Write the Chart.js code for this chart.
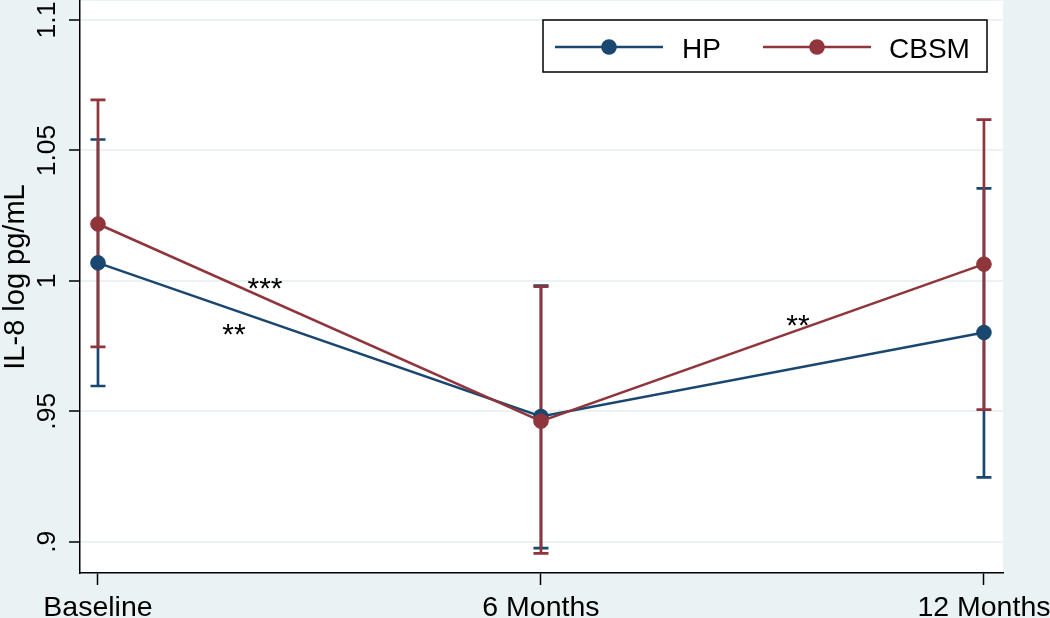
<!DOCTYPE html>
<html><head><meta charset="utf-8">
<script src="https://cdn.jsdelivr.net/npm/chart.js@4.4.1/dist/chart.umd.min.js"></script>
<style>html,body{margin:0;padding:0;background:#eaf2f3;overflow:hidden}#wrap{width:1050px;height:618px;position:relative}canvas{display:block}</style>
</head><body><div id="wrap"><canvas id="c" width="1050" height="618"></canvas></div>
<script>
// ---- data ----
const categories = ['Baseline', '6 Months', '12 Months'];
const timePoints = [0, 1, 2];
const hpMean   = [1.0069, 0.9480, 0.9802];
const hpLower  = [0.9597, 0.8975, 0.9247];
const hpUpper  = [1.0542, 0.9982, 1.0355];
const cbsmMean  = [1.0218, 0.9462, 1.0064];
const cbsmLower = [0.9747, 0.8955, 0.9506];
const cbsmUpper = [1.0694, 0.9978, 1.0618];
const yTickValues = [0.9, 0.95, 1, 1.05, 1.1];
const yTickLabels = ['.9', '.95', '1', '1.05', '1.1'];
const yTitle = 'IL-8 log pg/mL';
const annoText = ['***', '**', '**'];
const annoX = [0.377, 0.307, 1.58];
const annoY = [1.0000, 0.9824, 0.9858];

const NAVY = '#1a476f', MAROON = '#90353b', BG = '#eaf2f3';
const FONT = "'Liberation Sans', Arial, Helvetica, sans-serif";

const series = [
  {label: 'HP', mean: hpMean, lower: hpLower, upper: hpUpper, color: NAVY},
  {label: 'CBSM', mean: cbsmMean, lower: cbsmLower, upper: cbsmUpper, color: MAROON}
];

const bgPlugin = {
  id: 'bg',
  beforeDraw(chart) {
    const {ctx, chartArea: a} = chart;
    ctx.save();
    ctx.fillStyle = BG; ctx.fillRect(0, 0, chart.width, chart.height);
    ctx.fillStyle = '#ffffff'; ctx.fillRect(a.left, a.top, a.right - a.left, a.bottom - a.top);
    ctx.restore();
  }
};

const errPlugin = {
  id: 'errbars',
  beforeDatasetsDraw(chart) {
    const {ctx, scales: {x, y}} = chart;
    ctx.save();
    ctx.lineWidth = 2.7;
    series.forEach(s => {
      ctx.strokeStyle = s.color;
      timePoints.forEach((t, i) => {
        const px = x.getPixelForValue(t);
        const yl = y.getPixelForValue(s.lower[i]);
        const yu = y.getPixelForValue(s.upper[i]);
        ctx.beginPath();
        ctx.moveTo(px, yl); ctx.lineTo(px, yu);
        ctx.moveTo(px - 7.5, yl); ctx.lineTo(px + 7.5, yl);
        ctx.moveTo(px - 7.5, yu); ctx.lineTo(px + 7.5, yu);
        ctx.stroke();
      });
    });
    ctx.restore();
  }
};

const decoPlugin = {
  id: 'deco',
  afterDraw(chart) {
    const {ctx, scales: {x, y}} = chart;
    ctx.save();
    ctx.fillStyle = '#000';
    // y tick labels (rotated)
    ctx.font = '26.5px ' + FONT;
    ctx.textAlign = 'center'; ctx.textBaseline = 'alphabetic';
    yTickValues.forEach((v, i) => {
      ctx.save();
      ctx.translate(55, y.getPixelForValue(v));
      ctx.rotate(-Math.PI / 2);
      ctx.fillText(yTickLabels[i], 0, 0);
      ctx.restore();
    });
    // y title
    ctx.font = '29px ' + FONT;
    ctx.save();
    ctx.translate(24, 277);
    ctx.rotate(-Math.PI / 2);
    ctx.fillText(yTitle, 0, 0);
    ctx.restore();
    // annotations
    ctx.font = '30px ' + FONT;
    annoText.forEach((t, i) => {
      ctx.fillText(t, x.getPixelForValue(annoX[i]), y.getPixelForValue(annoY[i]) + 17);
    });
    // legend
    ctx.fillStyle = '#fff'; ctx.strokeStyle = '#000'; ctx.lineWidth = 1.5;
    ctx.fillRect(543, 20, 444, 52); ctx.strokeRect(543, 20, 444, 52);
    const entries = [{x0: 555, text: 682}, {x0: 763, text: 889}];
    series.forEach((s, i) => {
      const e = entries[i];
      ctx.strokeStyle = s.color; ctx.lineWidth = 2.5;
      ctx.beginPath(); ctx.moveTo(e.x0, 47); ctx.lineTo(e.x0 + 108, 47); ctx.stroke();
      ctx.fillStyle = s.color;
      ctx.beginPath(); ctx.arc(e.x0 + 54, 47, 7.8, 0, Math.PI * 2); ctx.fill();
      ctx.fillStyle = '#000'; ctx.font = '28px ' + FONT; ctx.textAlign = 'left';
      ctx.fillText(s.label, e.text, 58);
    });
    ctx.restore();
  }
};

new Chart(document.getElementById('c'), {
  type: 'line',
  data: {
    datasets: series.map((s, k) => ({
      label: s.label,
      data: timePoints.map((t, i) => ({x: t, y: s.mean[i]})),
      borderColor: s.color, backgroundColor: s.color,
      pointBackgroundColor: s.color, pointBorderColor: s.color,
      borderWidth: 2.5, pointRadius: 7.3, pointBorderWidth: 1,
      tension: 0, fill: false, order: 2 - k
    }))
  },
  options: {
    responsive: false, animation: false, devicePixelRatio: 1,
    layout: {autoPadding: false, padding: {top: 1, right: 47, left: 0, bottom: 0}},
    plugins: {legend: {display: false}, tooltip: {enabled: false}, title: {display: false}},
    scales: {
      x: {
        type: 'linear', min: -0.0406, max: 2.043,
        afterBuildTicks: s => { s.ticks = timePoints.map(v => ({value: v})); },
        afterFit: s => { s.height = 45; s.paddingLeft = 0; s.paddingRight = 0; },
        ticks: {
          callback: v => categories[timePoints.indexOf(v)],
          font: {size: 28.5, family: FONT}, color: '#000', padding: 6,
          autoSkip: false, maxRotation: 0, minRotation: 0
        },
        grid: {drawOnChartArea: false, drawTicks: true, tickLength: 12, tickColor: '#000', tickWidth: 1.5},
        border: {display: true, color: '#000', width: 1.5}
      },
      y: {
        min: 0.888, max: 1.1073,
        afterBuildTicks: s => { s.ticks = yTickValues.map(v => ({value: v})); },
        afterFit: s => { s.width = 80; s.paddingTop = 0; s.paddingBottom = 0; },
        ticks: {display: false},
        grid: {color: BG, lineWidth: 2, drawTicks: true, tickLength: 11, tickColor: '#000', tickWidth: 1.5},
        border: {display: true, color: '#000', width: 1.5}
      }
    }
  },
  plugins: [bgPlugin, errPlugin, decoPlugin]
});
</script></body></html>
